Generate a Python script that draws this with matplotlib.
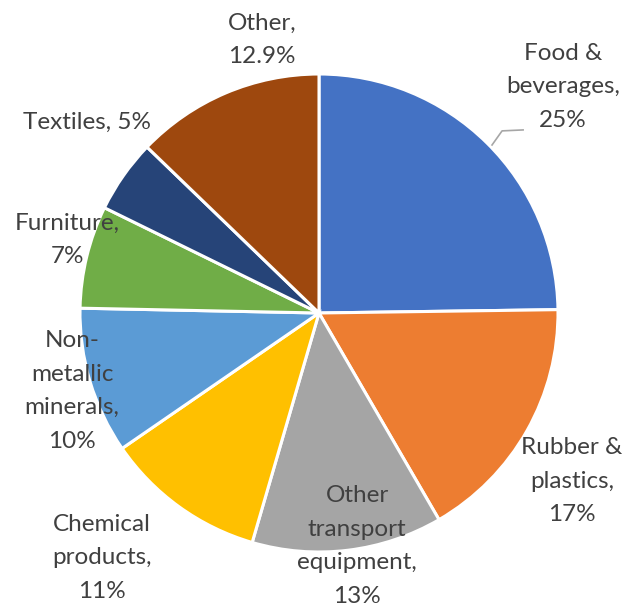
import matplotlib
matplotlib.use('Agg')
import matplotlib.pyplot as plt

# Données
secteurs = ['Food &\nbeverages,', 'Rubber &\nplastics,', 'Other\ntransport\nequipment,',
            'Chemical\nproducts,', 'Non-\nmetallic\nminerals,', 'Furniture,',
            'Textiles,', 'Other,']
parts = [25, 17, 13, 11, 10, 7, 5, 12.9]
etiquettes_pct = ['25%', '17%', '13%', '11%', '10%', '7%', '5%', '12.9%']

couleurs = ['#4472C4', '#ED7D31', '#A5A5A5', '#FFC000', '#5B9BD5', '#70AD47',
            '#264478', '#9E480E']

# positions des étiquettes (unités du rayon)
pos_etiquettes = [(1.021, 0.946), (1.059, -0.703), (0.159, -0.975), (-0.908, -1.025),
                  (-1.033, -0.326), (-1.054, 0.305), (-0.971, 0.799), (-0.238, 1.142)]

plt.rcParams['font.family'] = ['Lato', 'DejaVu Sans']

fig = plt.figure(figsize=(6.27, 6.08), dpi=100)
cx, cy, r = 319, 313, 239
ax = fig.add_axes([(cx - r) / 627, (608 - cy - r) / 608, 2 * r / 627, 2 * r / 608])

ax.pie(parts, colors=couleurs, startangle=90, counterclock=False, radius=1,
       wedgeprops=dict(edgecolor='white', linewidth=2.2))
ax.set_xlim(-1, 1)
ax.set_ylim(-1, 1)
ax.set_aspect('equal')
ax.axis('off')

for nom, pct, (x, y) in zip(secteurs, etiquettes_pct, pos_etiquettes):
    sep = ' ' if nom == 'Textiles,' else '\n'
    ax.text(x, y, nom + sep + pct, ha='center', va='center', fontsize=17.5,
            color='#404040', linespacing=1.75, clip_on=False)

# ligne de rappel pour Food & beverages
ax.plot([0.854, 0.766, 0.724], [0.766, 0.762, 0.703], color='#A6A6A6', lw=1.2,
        clip_on=False)

fig.savefig('out.png', dpi=100)
